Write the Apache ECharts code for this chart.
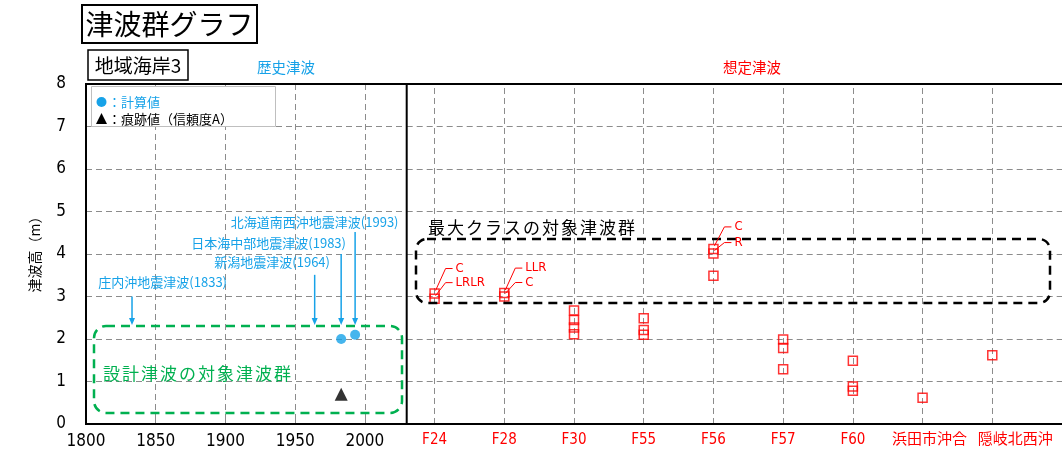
<!DOCTYPE html>
<html><head><meta charset="utf-8">
<script src="https://cdn.jsdelivr.net/npm/echarts@6/dist/echarts.min.js"></script>
<style>html,body{margin:0;padding:0;background:#fff}#c{width:1062px;height:463px}</style>
</head><body><div id="c"></div>
<script>
// ---- data ----
const categories = ['F24','F28','F30','F55','F56','F57','F60','浜田市沖合','隠岐北西沖'];
const scenarioHeights = [
  [3.07, 2.95],
  [3.08, 3.00],
  [2.67, 2.45, 2.27, 2.11],
  [2.49, 2.21, 2.10],
  [4.12, 4.01, 3.49],
  [1.99, 1.79, 1.29],
  [1.49, 0.88, 0.78],
  [0.62],
  [1.62]
];
const calcYears = [1983, 1993];
const calcHeights = [2.0, 2.1];
const traceYears = [1983];
const traceHeights = [0.7];
const yearTicks = [1800, 1850, 1900, 1950, 2000];
const heightTicks = [0, 1, 2, 3, 4, 5, 6, 7, 8];
const historicalEvents = [
  {name: '庄内沖地震津波(1833)', year: 1833, textYear: 1855, textH: 3.33, arrowTop: 3.0},
  {name: '新潟地震津波(1964)', year: 1964, textYear: 1933.5, textH: 3.80, arrowTop: 3.51},
  {name: '日本海中部地震津波(1983)', year: 1983, textYear: 1931, textH: 4.25, arrowTop: 4.0},
  {name: '北海道南西沖地震津波(1993)', year: 1993, textYear: 1964, textH: 4.76, arrowTop: 4.52}
];
const arrowBottom = 2.33;
const caseLabels = [
  {cat: 0, idx: 0, text: 'C', dy: -25},
  {cat: 0, idx: 1, text: 'LRLR', dy: -16},
  {cat: 1, idx: 0, text: 'LLR', dy: -25},
  {cat: 1, idx: 1, text: 'C', dy: -14},
  {cat: 4, idx: 0, text: 'C', dy: -22},
  {cat: 4, idx: 1, text: 'R', dy: -11}
];

// ---- layout ----
const GL = 86, GT = 84, GB = 424, GM = 406.7, GR = 1062;
const NARROW = "'Liberation Sans Narrow','DejaVu Sans Condensed','Noto Sans CJK JP',sans-serif";
const JP = "'Noto Sans CJK JP',sans-serif";
const BLUE = '#17a2e8', RED = '#ff0000', GREEN = '#00b050';
const gridLine = {show: true, lineStyle: {color: '#8c8c8c', width: 1, type: [6, 4]}};
// label anchor shifts (in category units) for the two long names, as in the source image
const labelShift = [0, 0, 0, 0, 0, 0, 0, 0.1, 0.33];

const scenarioData = [];
scenarioHeights.forEach((arr, i) => arr.forEach(v => scenarioData.push([i + 1, v])));

const chart = echarts.init(document.getElementById('c'), null, {renderer: 'canvas'});
chart.setOption({
  animation: false,
  textStyle: {fontFamily: JP},
  grid: [
    {left: GL, top: GT, width: GM - GL, height: GB - GT},
    {left: GM, top: GT, width: GR - GM, height: GB - GT}
  ],
  xAxis: [
    {gridIndex: 0, type: 'value', min: 1800, max: 2030, interval: 50,
     axisLine: {show: false},
     axisTick: {show: true, inside: true, length: 4, lineStyle: {color: '#888'}},
     axisLabel: {formatter: v => yearTicks.includes(v) ? String(v) : '', fontSize: 17, color: '#000', margin: 9, fontFamily: NARROW, showMaxLabel: false},
     splitLine: gridLine},
    {gridIndex: 1, type: 'value', min: 0.6, max: 10,
     axisLine: {show: false}, axisTick: {show: false}, splitLine: {show: false},
     axisLabel: {customValues: categories.map((c, i) => i + 1 + labelShift[i]),
                 formatter: v => categories[Math.round(v) - 1] || '',
                 hideOverlap: false, showMinLabel: true, showMaxLabel: true,
                 fontSize: 15, color: RED, margin: 9, fontFamily: NARROW}}
  ],
  yAxis: [
    {gridIndex: 0, type: 'value', min: 0, max: 8, interval: 1,
     axisLine: {show: false}, axisTick: {show: false},
     axisLabel: {formatter: v => heightTicks.includes(v) ? String(v) : '', fontSize: 17, color: '#000', margin: 20, fontFamily: NARROW},
     splitLine: gridLine},
    {gridIndex: 1, type: 'value', min: 0, max: 8, interval: 1,
     axisLine: {show: false}, axisTick: {show: false}, axisLabel: {show: false},
     splitLine: gridLine}
  ],
  series: [
    {type: 'scatter', xAxisIndex: 0, yAxisIndex: 0, symbol: 'circle', symbolSize: 10,
     itemStyle: {color: BLUE}, data: calcYears.map((y, i) => [y, calcHeights[i]]), z: 5},
    {type: 'scatter', xAxisIndex: 0, yAxisIndex: 0, symbol: 'triangle', symbolSize: 13,
     itemStyle: {color: '#000'}, data: traceYears.map((y, i) => [y, traceHeights[i]]), z: 5},
    {type: 'scatter', xAxisIndex: 1, yAxisIndex: 1, symbol: 'rect', symbolSize: 9,
     itemStyle: {color: 'rgba(255,255,255,0)', borderColor: RED, borderWidth: 1.5},
     data: scenarioData, z: 5,
     markLine: {silent: true, symbol: 'none', label: {show: false},
       lineStyle: {color: '#8c8c8c', width: 1, type: [6, 4]},
       emphasis: {disabled: true},
       data: categories.map((c, i) => ({xAxis: i + 1}))}}
  ]
});

const p0 = (x, y) => chart.convertToPixel({gridIndex: 0}, [x, y]);
const p1 = (x, y) => chart.convertToPixel({gridIndex: 1}, [x, y]);
const g = [];
const Z = 50;

// titles
g.push({type: 'rect', z: Z, shape: {x: 82, y: 5, width: 175, height: 38}, style: {fill: '#fff', stroke: '#000', lineWidth: 2}});
g.push({type: 'text', z: Z + 1, x: 169.5, y: 24.5, style: {text: '津波群グラフ', font: '28px ' + JP, fill: '#000', align: 'center', verticalAlign: 'middle'}});
g.push({type: 'rect', z: Z, shape: {x: 88, y: 50, width: 100, height: 30}, style: {fill: '#fff', stroke: '#000', lineWidth: 1.5}});
g.push({type: 'text', z: Z + 1, x: 138, y: 65.5, style: {text: '地域海岸3', font: '19px ' + JP, fill: '#000', align: 'center', verticalAlign: 'middle'}});
g.push({type: 'text', z: Z, x: 286, y: 67, style: {text: '歴史津波', font: '14.5px ' + JP, fill: BLUE, align: 'center', verticalAlign: 'middle'}});
g.push({type: 'text', z: Z, x: 752, y: 67, style: {text: '想定津波', font: '14.5px ' + JP, fill: RED, align: 'center', verticalAlign: 'middle'}});
g.push({type: 'text', z: Z, x: 35, y: 251, rotation: Math.PI / 2, style: {text: '津波高（m）', font: '14px ' + JP, fill: '#000', align: 'center', verticalAlign: 'middle'}});

// legend box
g.push({type: 'rect', z: Z, shape: {x: 91.5, y: 86.5, width: 184, height: 40}, style: {fill: '#fff', stroke: '#bfbfbf', lineWidth: 1}});
g.push({type: 'circle', z: Z + 1, shape: {cx: 101.5, cy: 102, r: 5}, style: {fill: BLUE}});
g.push({type: 'text', z: Z + 1, x: 108, y: 102, style: {text: '：計算値', font: '13px ' + JP, fill: BLUE, align: 'left', verticalAlign: 'middle'}});
g.push({type: 'polygon', z: Z + 1, shape: {points: [[101.5, 113], [107, 124], [96, 124]]}, style: {fill: '#000'}});
g.push({type: 'text', z: Z + 1, x: 108, y: 119, style: {text: '：痕跡値（信頼度A）', font: '13px ' + JP, fill: '#000', align: 'left', verticalAlign: 'middle'}});

// historical annotations
historicalEvents.forEach(ev => {
  const t = p0(ev.textYear, ev.textH);
  g.push({type: 'text', z: Z, x: t[0], y: t[1], style: {text: ev.name, font: '13px ' + JP, fill: BLUE, align: 'center', verticalAlign: 'middle'}});
  const a = p0(ev.year, ev.arrowTop), b = p0(ev.year, arrowBottom);
  g.push({type: 'line', z: Z, shape: {x1: a[0], y1: a[1], x2: b[0], y2: b[1] - 5}, style: {stroke: BLUE, lineWidth: 1.5}});
  g.push({type: 'polygon', z: Z, shape: {points: [[b[0] - 3, b[1] - 7], [b[0] + 3, b[1] - 7], [b[0], b[1]]]}, style: {fill: BLUE}});
});

// group boxes
g.push({type: 'rect', z: Z, shape: {x: 94, y: 326, width: 308, height: 87, r: 12}, style: {fill: 'none', stroke: GREEN, lineWidth: 2.5, lineDash: [9, 6]}});
'設計津波の対象津波群'.split('').forEach((ch, i) => {
  g.push({type: 'text', z: Z, x: 103 + i * 19, y: 374, style: {text: ch, font: '17px ' + JP, fill: GREEN, align: 'left', verticalAlign: 'middle'}});
});
g.push({type: 'rect', z: Z, shape: {x: 416, y: 239, width: 634, height: 64, r: 11}, style: {fill: 'none', stroke: '#000', lineWidth: 2.5, lineDash: [9, 6]}});
'最大クラスの対象津波群'.split('').forEach((ch, i) => {
  g.push({type: 'text', z: Z, x: 428 + i * 19, y: 228, style: {text: ch, font: '17px ' + JP, fill: '#000', align: 'left', verticalAlign: 'middle'}});
});

// case labels
caseLabels.forEach(l => {
  const p = p1(l.cat + 1, scenarioHeights[l.cat][l.idx]);
  const yy = p[1] + l.dy;
  g.push({type: 'polyline', z: Z, shape: {points: [[p[0] + 1, p[1] - 3], [p[0] + 11, yy], [p[0] + 18, yy]]}, style: {stroke: RED, lineWidth: 1, fill: 'none'}});
  g.push({type: 'text', z: Z, x: p[0] + 21, y: yy, style: {text: l.text, font: '13px ' + NARROW, fill: RED, align: 'left', verticalAlign: 'middle'}});
});

// frames
g.push({type: 'rect', z: Z + 2, shape: {x: GL, y: GT, width: GM - GL, height: GB - GT}, style: {fill: 'none', stroke: '#000', lineWidth: 2}});
g.push({type: 'line', z: Z + 2, shape: {x1: GM, y1: GT, x2: GR, y2: GT}, style: {stroke: '#000', lineWidth: 2}});
g.push({type: 'line', z: Z + 2, shape: {x1: GM, y1: GB, x2: GR, y2: GB}, style: {stroke: '#000', lineWidth: 2}});

chart.setOption({graphic: g});
</script>
</body></html>
